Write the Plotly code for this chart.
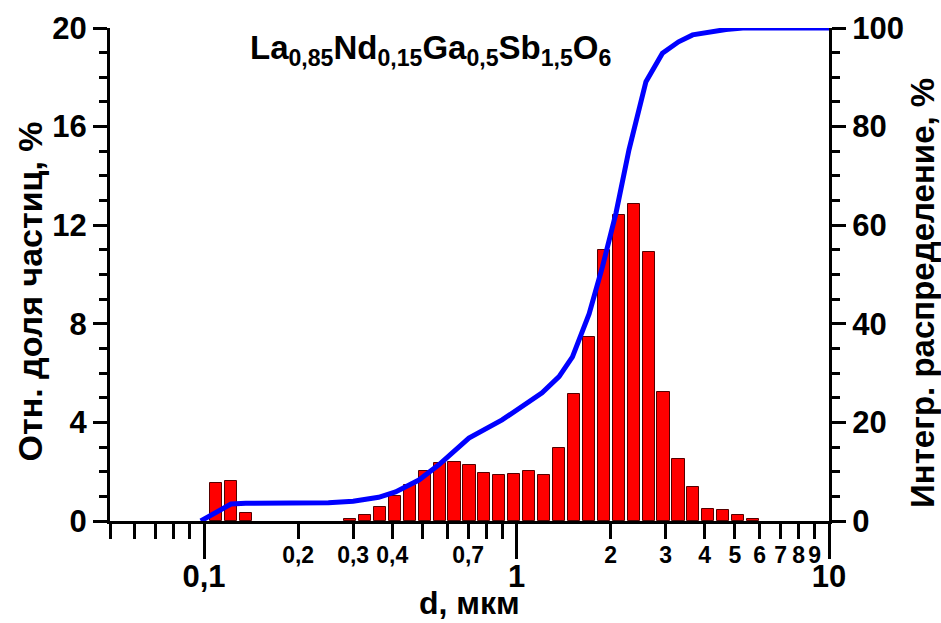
import numpy as np
import plotly.graph_objects as go

# ---- data ----
d_bins = [0.109, 0.1217, 0.1358,
          0.2933, 0.3274, 0.3654, 0.4079, 0.4553, 0.5083, 0.5674, 0.6333, 0.7069,
          0.789, 0.8808, 0.9833, 1.0977, 1.2254, 1.3677, 1.5268, 1.7044, 1.9025,
          2.1237, 2.3707, 2.6463, 2.9541, 3.2976, 3.6809, 4.109, 4.5864, 5.1198, 5.715]
rel_fraction = [1.55, 1.61, 0.31,
                0.07, 0.24, 0.57, 1.03, 1.47, 2.04, 2.34, 2.39, 2.28,
                1.93, 1.85, 1.89, 2.03, 1.87, 2.95, 5.14, 7.45, 10.98,
                12.4, 12.86, 10.9, 5.25, 2.5, 1.38, 0.49, 0.45, 0.23, 0.07]

cum_d = [0.0976, 0.122, 0.136, 0.20, 0.25, 0.30, 0.33, 0.362, 0.41, 0.487, 0.564,
         0.704, 0.899, 1.207, 1.368, 1.51, 1.707, 1.884, 2.08, 2.29, 2.595,
         2.93, 3.3, 3.66, 4.68, 5.3, 10]
cum_val = [0, 3.45, 3.6, 3.65, 3.7, 4.0, 4.3, 4.8, 5.9, 8.3, 11.4,
           16.8, 20.5, 26, 29.3, 33.3, 42, 51.6, 62.4, 75.3, 89.1,
           94.9, 97.2, 98.6, 99.7, 100, 100]

major_x_ticks = [0.1, 1, 10]
major_x_text = ["0,1", "1", "10"]
minor_x_ticks = [0.05, 0.06, 0.07, 0.08, 0.09, 0.2, 0.3, 0.4, 0.5, 0.6, 0.7, 0.8, 0.9,
                 2, 3, 4, 5, 6, 7, 8, 9]
minor_lbl_vals = [0.2, 0.3, 0.4, 0.7, 2, 3, 4, 5, 6, 7, 8, 9]
minor_lbl_text = ["0,2", "0,3", "0,4", "0,7", "2", "3", "4", "5", "6", "7", "8", "9"]

x_min, x_max = 0.05, 10
FONT = "Liberation Sans, Arial, sans-serif"
TITLE_SIZE = 34

fig = go.Figure()
fig.add_trace(go.Bar(
    x=np.log10(d_bins), y=rel_fraction, xaxis="x", yaxis="y",
    width=0.039,
    marker=dict(color="#FF0000", line=dict(color="#550000", width=1)),
    showlegend=False,
))
fig.add_trace(go.Scatter(
    x=cum_d, y=cum_val, xaxis="x2", yaxis="y2", mode="lines",
    line=dict(color="#0000FF", width=5),
    showlegend=False,
))
fig.add_trace(go.Scatter(x=[], y=[], xaxis="x3", yaxis="y", showlegend=False))

rng = [np.log10(x_min), np.log10(x_max)]
tick_common = dict(showgrid=False, zeroline=False, showline=True, linewidth=3,
                   linecolor="black", ticks="outside", tickwidth=3, tickcolor="black",
                   automargin=False)

title_font = dict(size=TITLE_SIZE, weight="bold", family=FONT)

fig.update_layout(
    width=941, height=623,
    margin=dict(l=110, r=112, t=28, b=102, autoexpand=False),
    plot_bgcolor="white", paper_bgcolor="white",
    font=dict(family=FONT, color="black"),
    bargap=0,
    xaxis=dict(type="linear", range=rng, visible=False, showgrid=False, zeroline=False,
               automargin=False),
    xaxis2=dict(type="log", range=rng, overlaying="x", anchor="y", side="bottom",
                tickvals=major_x_ticks, ticktext=major_x_text, ticklen=35,
                tickfont=dict(size=31, weight="bold", family=FONT),
                ticklabelstandoff=-9,
                minor=dict(tickvals=minor_x_ticks, ticklen=15, tickwidth=3,
                           tickcolor="black", ticks="outside", showgrid=False),
                **tick_common),
    xaxis3=dict(type="log", range=rng, overlaying="x", anchor="y", side="bottom",
                tickvals=minor_lbl_vals, ticktext=minor_lbl_text, ticks="",
                showline=False, showgrid=False, zeroline=False, automargin=False,
                tickfont=dict(size=23, weight="bold", family=FONT),
                ticklabelstandoff=18),
    yaxis=dict(range=[0, 20], tickvals=[0, 4, 8, 12, 16, 20], ticklen=14,
               tickfont=dict(size=31, weight="bold", family=FONT),
               minor=dict(dtick=1, ticklen=8, tickwidth=3, tickcolor="black",
                          ticks="outside", showgrid=False),
               **tick_common),
    yaxis2=dict(range=[0, 100], tickvals=[0, 20, 40, 60, 80, 100], ticklen=14,
                overlaying="y", anchor="x2", side="right",
                tickfont=dict(size=31, weight="bold", family=FONT),
                minor=dict(dtick=5, ticklen=8, tickwidth=3, tickcolor="black",
                           ticks="outside", showgrid=False),
                **tick_common),
    annotations=[
        dict(text="La<sub>0,85</sub>Nd<sub>0,15</sub>Ga<sub>0,5</sub>Sb<sub>1,5</sub>O<sub>6</sub>",
             xref="paper", yref="paper", x=0.4465, y=0.955, xanchor="center", yanchor="middle",
             showarrow=False, font=dict(size=33, weight="bold", family=FONT)),
        dict(text="d, мкм", xref="paper", yref="paper", x=0.5, y=-0.166,
             xanchor="center", yanchor="middle", showarrow=False,
             font=dict(size=32, weight="bold", family=FONT)),
        dict(text="Отн. доля частиц, %", xref="paper", yref="paper", x=-0.111, y=0.466,
             xanchor="center", yanchor="middle", textangle=-90, showarrow=False,
             font=title_font),
        dict(text="Интегр. распределение, %", xref="paper", yref="paper", x=1.129, y=0.462,
             xanchor="center", yanchor="middle", textangle=-90, showarrow=False,
             font=dict(size=33, weight="bold", family=FONT)),
    ],
)

fig.write_html("out.html")
